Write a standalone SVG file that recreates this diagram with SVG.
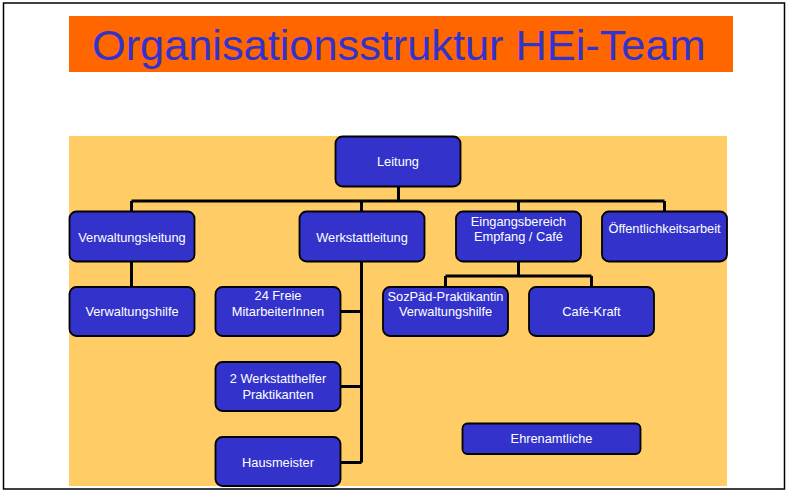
<svg xmlns="http://www.w3.org/2000/svg" width="788" height="493" viewBox="0 0 788 493">
<style>
.node rect{fill:#3333CC;stroke:#000;stroke-width:1.8}
.node text{fill:#fff;font-family:"Liberation Sans",Arial,sans-serif;font-size:12.8px;text-anchor:middle}
.conn{fill:none;stroke:#000;stroke-width:3}
</style>
<rect x="0" y="0" width="788" height="493" fill="#fff"/>
<rect x="3.5" y="3" width="781" height="486" fill="none" stroke="#000" stroke-width="1.5"/>
<g id="title">
<rect x="69" y="16" width="664" height="56" fill="#FF6600"/>
<text x="92" y="60" font-family="'Liberation Sans',Arial,sans-serif" font-size="43.3" fill="#3333CC">Organisationsstruktur HEi-Team</text>
</g>
<rect x="69" y="136" width="658" height="350" fill="#FFCC66"/>
<g id="connectors" class="conn">
<path d="M398.5 187V201M131.5 201H664.5M131.5 201V212M361.5 201V212M518.5 201V212M664.5 201V212"/>
<path d="M131.5 261V287"/>
<path d="M518.5 261V276M445.5 276H591.5M445.5 276V287M591.5 276V287"/>
<path d="M361.5 261V462.5M340 311.5H361.5M340 386.5H361.5M340 462.5H361.5"/>
</g>
<g id="leitung" class="node"><rect x="335.5" y="136.5" width="125" height="50" rx="7"/><text x="398" y="166">Leitung</text></g>
<g id="verwaltungsleitung" class="node"><rect x="69.5" y="211.5" width="125" height="50" rx="7"/><text x="132" y="241.5">Verwaltungsleitung</text></g>
<g id="werkstattleitung" class="node"><rect x="299.5" y="211.5" width="125" height="50" rx="7"/><text x="362" y="241.5">Werkstattleitung</text></g>
<g id="eingangsbereich" class="node"><rect x="456" y="211.5" width="125" height="50" rx="7"/><text x="518.5" y="225.5">Eingangsbereich</text><text x="518.5" y="241">Empfang / Café</text></g>
<g id="oeffentlichkeitsarbeit" class="node"><rect x="602" y="211.5" width="125" height="50" rx="7"/><text x="664.5" y="232.5">Öffentlichkeitsarbeit</text></g>
<g id="verwaltungshilfe" class="node"><rect x="69.5" y="287" width="125" height="49" rx="7"/><text x="132" y="315.5">Verwaltungshilfe</text></g>
<g id="freie" class="node"><rect x="215.5" y="287" width="125" height="49" rx="7"/><text x="278" y="300">24 Freie</text><text x="278" y="315.5">MitarbeiterInnen</text></g>
<g id="werkstatthelfer" class="node"><rect x="215.5" y="362" width="125" height="49" rx="7"/><text x="278" y="383">2 Werkstatthelfer</text><text x="278" y="398.5">Praktikanten</text></g>
<g id="hausmeister" class="node"><rect x="215.5" y="437" width="125" height="49" rx="7"/><text x="278" y="466.5">Hausmeister</text></g>
<g id="sozpaed" class="node"><rect x="383" y="287" width="125" height="49" rx="7"/><text x="445.5" y="300.5">SozPäd-Praktikantin</text><text x="445.5" y="315.5">Verwaltungshilfe</text></g>
<g id="cafekraft" class="node"><rect x="529" y="287" width="125" height="49" rx="7"/><text x="591.5" y="315.5">Café-Kraft</text></g>
<g id="ehrenamtliche" class="node"><rect x="462.5" y="423.5" width="178" height="30.5" rx="5"/><text x="551.5" y="442.5">Ehrenamtliche</text></g>
</svg>
